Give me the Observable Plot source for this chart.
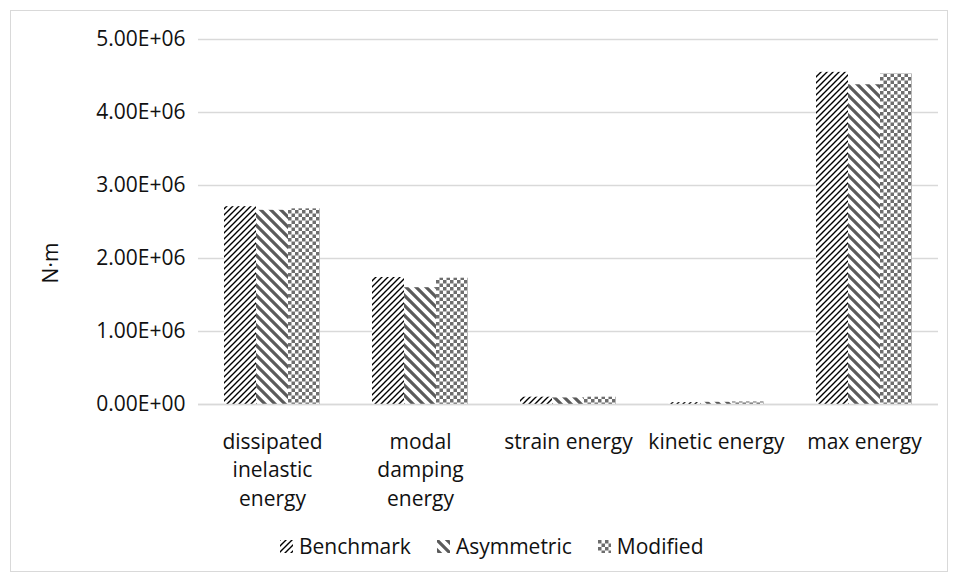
<!DOCTYPE html>
<html>
<head>
<meta charset="utf-8">
<script src="https://cdn.jsdelivr.net/npm/d3@7"></script>
<script src="https://cdn.jsdelivr.net/npm/@observablehq/plot@0.6"></script>
<style>
  body { margin: 0; background: #fff; font-family: "Open Sans", sans-serif; }
  #page { position: relative; width: 958px; height: 581px; overflow: hidden; }
  #frame { position: absolute; left: 10px; top: 10px; width: 936px; height: 560px; border: 1px solid #d9d9d9; }
  #chart { position: absolute; left: 0; top: 0; }
  #ylabel { position: absolute; left: 50px; top: 263px; transform: translate(-50%, -50%) rotate(-90deg);
            font-size: 21px; color: #111; white-space: nowrap; }
  #legend { position: absolute; left: 280px; top: 532px; display: flex; align-items: center;
            font-size: 21px; color: #111; white-space: nowrap; }
  .item { display: flex; align-items: center; margin-right: 26px; }
  .item svg { margin-right: 6px; }
</style>
</head>
<body>
<svg width="0" height="0" style="position:absolute">
  <defs>
    <!-- wide upward diagonal, black -->
    <pattern id="pat-bench" patternUnits="userSpaceOnUse" width="6" height="6">
      <rect width="6" height="6" fill="#fff"/>
      <path d="M-1.5,1.5 L1.5,-1.5 M0,6 L6,0 M4.5,7.5 L7.5,4.5" stroke="#000" stroke-width="1.4"/>
    </pattern>
    <!-- wide downward diagonal, dark grey -->
    <pattern id="pat-asym" patternUnits="userSpaceOnUse" width="10" height="10">
      <rect width="10" height="10" fill="#fff"/>
      <path d="M-2.5,7.5 L2.5,12.5 M0,0 L10,10 M7.5,-2.5 L12.5,2.5" stroke="#5a5a5a" stroke-width="3.2"/>
    </pattern>
    <!-- small checkerboard, grey -->
    <pattern id="pat-mod" patternUnits="userSpaceOnUse" width="7" height="7">
      <rect width="7" height="7" fill="#fff"/>
      <rect x="0" y="0" width="3.5" height="3.5" fill="#6e6e6e"/>
      <rect x="3.5" y="3.5" width="3.5" height="3.5" fill="#6e6e6e"/>
    </pattern>
  </defs>
</svg>
<div id="page">
  <div id="frame"></div>
  <div id="chart"></div>
  <div id="ylabel">N·m</div>
  <div id="legend"></div>
</div>
<script>
// Energy components per model (N·m)
const categories = ["dissipated inelastic energy", "modal damping energy", "strain energy", "kinetic energy", "max energy"];
const categoryLabels = ["dissipated\ninelastic\nenergy", "modal\ndamping\nenergy", "strain energy", "kinetic energy", "max energy"];
const series = ["Benchmark", "Asymmetric", "Modified"];
const benchmark  = [2.71e6, 1.74e6, 0.10e6, 0.025e6, 4.55e6];
const asymmetric = [2.66e6, 1.60e6, 0.09e6, 0.030e6, 4.38e6];
const modified   = [2.68e6, 1.73e6, 0.10e6, 0.035e6, 4.53e6];
const yTicks = [0, 1e6, 2e6, 3e6, 4e6, 5e6];

const patterns = ["url(#pat-bench)", "url(#pat-asym)", "url(#pat-mod)"];

const values = [benchmark, asymmetric, modified];
const rows = [];
categories.forEach((c, i) => {
  series.forEach((s, j) => rows.push({category: c, series: s, value: values[j][i]}));
});

// 5.00E+06 style, two-digit exponent
const sci = d => {
  const [m, e] = d.toExponential(2).split("e");
  const sign = e[0] === "-" ? "-" : "+";
  const ex = e.replace(/^[+-]/, "").padStart(2, "0");
  return `${m}E${sign}${ex}`;
};

const chart = Plot.plot({
  width: 958,
  height: 520,
  marginTop: 39,
  marginBottom: 116,
  marginLeft: 197,
  marginRight: 19,
  style: {fontFamily: "Open Sans, sans-serif", fontSize: "21px", color: "#111", background: "transparent"},
  fx: {domain: categories, padding: 0},
  x: {domain: series, paddingInner: 0, paddingOuter: 0.76, axis: null},
  y: {domain: [0, 5e6]},
  color: {domain: series, range: patterns},
  marks: [
    Plot.gridY(yTicks, {stroke: "#d9d9d9", strokeOpacity: 1, strokeWidth: 1.3}),
    Plot.barY(rows, {fx: "category", x: "series", y: "value", fill: "series"}),
    Plot.ruleY([0], {stroke: "#d9d9d9", strokeWidth: 1.6}),
    Plot.axisY(yTicks, {tickSize: 0, tickPadding: 13, tickFormat: sci, fontSize: 21, label: null}),
    Plot.axisFx({anchor: "bottom", tickSize: 0, tickPadding: 24, fontSize: 21, lineHeight: 1.36,
                 tickFormat: c => categoryLabels[categories.indexOf(c)], label: null})
  ]
});
document.getElementById("chart").append(chart);

// Legend with patterned swatches
const legend = d3.select("#legend");
series.forEach((s, j) => {
  const item = legend.append("div").attr("class", "item");
  const sw = item.append("svg").attr("width", 13).attr("height", 13);
  sw.append("rect").attr("width", 13).attr("height", 13).attr("fill", patterns[j]);
  item.append("span").text(s);
});
</script>
</body>
</html>
